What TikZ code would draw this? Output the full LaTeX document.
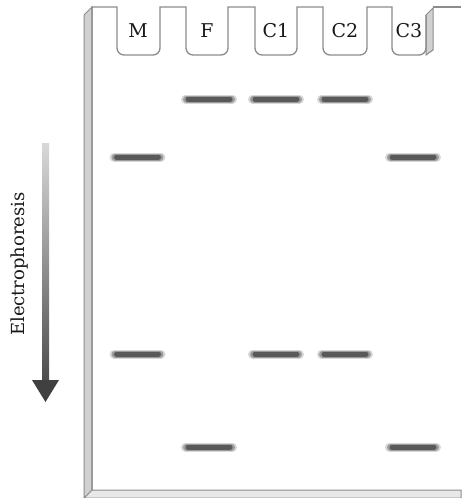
\documentclass[tikz,border=0pt]{standalone}
\usepackage{fontspec}
\setmainfont{DejaVu Serif}
\begin{document}
\begin{tikzpicture}[x=1pt,y=-1pt,
  gel/.style={draw=black!45, line width=1.3pt},
  side/.style={fill=black!18, draw=black!45, line width=1pt},
  lbl/.style={font=\fontsize{19}{22}\selectfont, inner sep=0pt, text=black!90},
  band/.style={line cap=round}]
\useasboundingbox (0,0) rectangle (461,498);
\fill[white] (0,0) rectangle (461,498);
% bottom face
\filldraw[side, fill=black!9] (92,490) -- (84,498) -- (461,498) -- (461,490) -- cycle;
% left face
\filldraw[side] (92,7) -- (84,15) -- (84,498) -- (92,490) -- cycle;
% C3 inner wall face
\filldraw[side] (426,15) -- (433,8) -- (433,50) -- (426,55) -- cycle;
% front outline with wells
\draw[gel] (92,490) -- (92,7)
  foreach \a/\b in {117/160,186/228,255/297,323/367} {
    -- (\a,7) -- (\a,48) arc[start angle=180,end angle=90,radius=7]
    -- ({\b-7},55) arc[start angle=90,end angle=0,radius=7] -- (\b,7) }
  -- (392,7) -- (392,48) arc[start angle=180,end angle=90,radius=7]
  -- (419,55) arc[start angle=90,end angle=0,radius=7] -- (426,15);
\draw[gel] (433,7) -- (461,7);
% labels
\node[lbl] (lM) at (138,31) {M};
\node[lbl] (lF) at (207,31) {F};
\node[lbl] (lC1) at (276,31) {C1};
\node[lbl] (lC2) at (345,31) {C2};
\node[lbl] (lC3) at (409,31) {C3};
% bands
\foreach \x/\y in {209/99,276/99,345/99,137.5/157,413/157,137.5/354,276/354,345/354,209/447,413/447} {
  \draw[band, line width=9pt, draw=black!60, opacity=.25] (\x-23.5,\y) -- (\x+23.5,\y);
  \draw[band, line width=7pt, draw=black!62, opacity=.5] (\x-22.5,\y) -- (\x+22.5,\y);
  \draw[band, line width=5pt, draw=black!65] (\x-21,\y) -- (\x+21,\y);
}
% arrow
\shade[top color=black!15, bottom color=black!70] (42,143) rectangle (49,381);
\fill[black!75] (32,380) -- (59,380) -- (45.5,402) -- cycle;
\node[lbl, font=\fontsize{18}{20}\selectfont, rotate=90] (elec) at (20,264) {Electrophoresis};
\end{tikzpicture}
\end{document}
